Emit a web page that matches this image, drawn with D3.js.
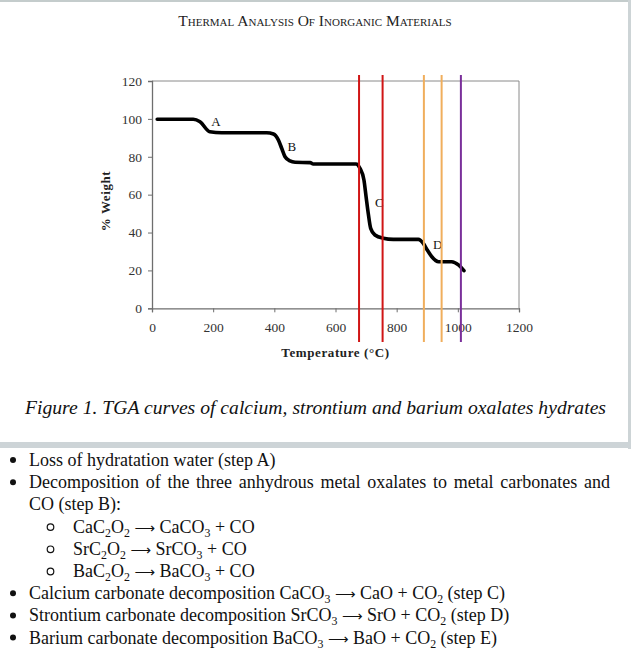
<!DOCTYPE html>
<html>
<head>
<meta charset="utf-8">
<script src="https://cdn.jsdelivr.net/npm/d3@7"></script>
<style>
  html, body { margin: 0; padding: 0; background: #fff; }
  svg { display: block; }
</style>
</head>
<body>
<script>
// ---- data ----
const temperature = [17, 135, 157, 189, 228, 375, 397, 413, 424, 435, 451, 468, 517, 527, 667, 680, 693, 700, 707, 715, 729, 756, 789, 871, 887, 900, 915, 937, 980, 1002, 1020];
const weight      = [99.8, 99.8, 98.5, 93.2, 92.7, 92.7, 92, 88.9, 84.5, 80, 77.8, 77.1, 76.9, 76.2, 76.2, 73.9, 67.7, 58.9, 50.2, 42.2, 38.7, 37, 36.4, 36.4, 34.3, 30.8, 27.2, 24.6, 24.6, 22.9, 19.9];
const xTicks = [0, 200, 400, 600, 800, 1000, 1200];
const yTicks = [0, 20, 40, 60, 80, 100, 120];
const stepLabels = ["A", "B", "C", "D"];
const stepLabelT = [209, 457, 743, 934];
const stepLabelW = [98.5, 85.3, 56, 33.8];
const markerTemps  = [677, 754, 889, 947, 1010];
const markerColors = ["#d01515", "#d01515", "#f0ae5c", "#f0ae5c", "#7a2f9a"];
const titleText = "Thermal Analysis Of Inorganic Materials";
const captionText = "Figure 1. TGA curves of calcium, strontium and barium oxalates hydrates";
// bullet items: [level, segments] ; segment = [text, kind]  kind: 0 normal, 1 subscript, 2 arrow
const bulletLines = [
  [1, [["Loss of hydratation water (step A)", 0]]],
  [1, [["Decomposition of the three anhydrous metal oxalates to metal carbonates and", 0]]],
  [0, [["CO (step B):", 0]]],
  [2, [["CaC", 0], ["2", 1], ["O", 0], ["2", 1], [" ", 0], ["\u27f6", 2], [" CaCO", 0], ["3", 1], [" + CO", 0]]],
  [2, [["SrC", 0], ["2", 1], ["O", 0], ["2", 1], [" ", 0], ["\u27f6", 2], [" SrCO", 0], ["3", 1], [" + CO", 0]]],
  [2, [["BaC", 0], ["2", 1], ["O", 0], ["2", 1], [" ", 0], ["\u27f6", 2], [" BaCO", 0], ["3", 1], [" + CO", 0]]],
  [1, [["Calcium carbonate decomposition CaCO", 0], ["3", 1], [" ", 0], ["\u27f6", 2], [" CaO + CO", 0], ["2", 1], [" (step C)", 0]]],
  [1, [["Strontium carbonate decomposition SrCO", 0], ["3", 1], [" ", 0], ["\u27f6", 2], [" SrO + CO", 0], ["2", 1], [" (step D)", 0]]],
  [1, [["Barium carbonate decomposition BaCO", 0], ["3", 1], [" ", 0], ["\u27f6", 2], [" BaO + CO", 0], ["2", 1], [" (step E)", 0]]]
];

// ---- layout ----
const W = 631, H = 653;
const serif = "'Liberation Serif', 'Times New Roman', serif";
const svg = d3.select("body").append("svg").attr("width", W).attr("height", H)
  .style("font-family", serif);

svg.append("rect").attr("width", W).attr("height", H).attr("fill", "#fff");
// frame bands
svg.append("rect").attr("x", 0).attr("y", 0).attr("width", W).attr("height", 2).attr("fill", "#c4cccc");
svg.append("rect").attr("x", 628).attr("y", 0).attr("width", 3).attr("height", 449).attr("fill", "#cdd4d6");
svg.append("rect").attr("x", 0).attr("y", 442).attr("width", W).attr("height", 6).attr("fill", "#cdd4d7");

// title
svg.append("text").attr("x", 315).attr("y", 26).attr("text-anchor", "middle")
  .style("font-size", "15.5px").style("font-variant", "small-caps").attr("fill", "#222")
  .text(titleText);

const plot = { left: 152, right: 519, top: 81, bottom: 308.3 };
const x = d3.scaleLinear().domain([0, 1200]).range([plot.left, plot.right]);
const y = d3.scaleLinear().domain([0, 120]).range([plot.bottom, plot.top]);

// plot frame (top/right)
svg.append("path")
  .attr("d", `M${plot.left},${plot.top}H${plot.right}V${plot.bottom}`)
  .attr("fill", "none").attr("stroke", "#8a8a8a").attr("stroke-width", 1);

const xAxis = svg.append("g").attr("transform", `translate(0,${plot.bottom})`)
  .call(d3.axisBottom(x).tickValues(xTicks).tickSize(4).tickPadding(10).tickFormat(d3.format("d")));
const yAxis = svg.append("g").attr("transform", `translate(${plot.left},0)`)
  .call(d3.axisLeft(y).tickValues(yTicks).tickSize(4).tickPadding(6).tickFormat(d3.format("d")));
[xAxis, yAxis].forEach(g => {
  g.select(".domain").attr("stroke", "#6e6e6e").attr("stroke-width", 1.3);
  g.selectAll(".tick line").attr("stroke", "#6e6e6e");
  g.selectAll(".tick text").style("font-family", serif).style("font-size", "13.5px").attr("fill", "#333");
});

// axis titles
svg.append("text").attr("x", (plot.left + plot.right) / 2).attr("y", 357).attr("text-anchor", "middle")
  .style("font-size", "13px").style("font-weight", "bold").style("letter-spacing", "0.6px").attr("fill", "#222")
  .text("Temperature (\u00b0C)");
svg.append("text").attr("transform", "translate(110,201) rotate(-90)").attr("text-anchor", "middle")
  .style("font-size", "13px").style("font-weight", "bold").style("letter-spacing", "0.6px").attr("fill", "#222")
  .text("% Weight");

// curve
const pts = temperature.map((t, i) => [t, weight[i]]);
svg.append("path").datum(pts)
  .attr("d", d3.line().x(d => x(d[0])).y(d => y(d[1])).curve(d3.curveMonotoneX))
  .attr("fill", "none").attr("stroke", "#000").attr("stroke-width", 3.6)
  .attr("stroke-linejoin", "round").attr("stroke-linecap", "round");

// step labels
svg.selectAll("text.step").data(stepLabels).enter().append("text").attr("class", "step")
  .attr("x", (d, i) => x(stepLabelT[i])).attr("y", (d, i) => y(stepLabelW[i]) + 4.5)
  .attr("text-anchor", "middle").style("font-size", "13px").attr("fill", "#111").text(d => d);

// marker lines
svg.selectAll("line.marker").data(markerTemps).enter().append("line").attr("class", "marker")
  .attr("x1", d => x(d)).attr("x2", d => x(d)).attr("y1", 75).attr("y2", 342)
  .attr("stroke", (d, i) => markerColors[i]).attr("stroke-width", 2);

// caption
svg.append("text").attr("x", 25).attr("y", 414)
  .style("font-size", "19px").style("font-style", "italic").attr("fill", "#111")
  .attr("textLength", 581).attr("lengthAdjust", "spacingAndGlyphs")
  .text(captionText);

// bullet list
const baseY = 466, lineH = 22.2, fs = 18;
bulletLines.forEach((ln, i) => {
  const [level, segs] = ln;
  const by = baseY + i * lineH;
  const tx = level === 2 ? 73 : 29;
  if (level === 1) {
    svg.append("circle").attr("cx", 13).attr("cy", by - 6).attr("r", 3).attr("fill", "#111");
  } else if (level === 2) {
    svg.append("circle").attr("cx", 50.5).attr("cy", by - 5.5).attr("r", 3.3).attr("fill", "none")
      .attr("stroke", "#111").attr("stroke-width", 1.2);
  }
  const t = svg.append("text").attr("x", tx).attr("y", by).style("font-size", fs + "px").attr("fill", "#111");
  let prevSub = false;
  segs.forEach(([s, kind]) => {
    const ts = t.append("tspan").text(s);
    if (kind === 1) {
      ts.attr("dy", 4).style("font-size", (fs * 0.66) + "px");
    } else {
      ts.attr("dy", prevSub ? -4 : 0);
      if (kind === 2) ts.style("font-family", "'DejaVu Sans', sans-serif").style("font-size", (fs * 0.8) + "px");
    }
    prevSub = kind === 1;
  });
  // justify line 2 (the long wrapped line)
  if (i === 1) {
    const natural = t.node().getComputedTextLength();
    const spaces = segs[0][0].split(" ").length - 1;
    const target = 610 - tx;
    t.style("word-spacing", ((target - natural) / spaces) + "px");
  }
});
</script>
</body>
</html>
